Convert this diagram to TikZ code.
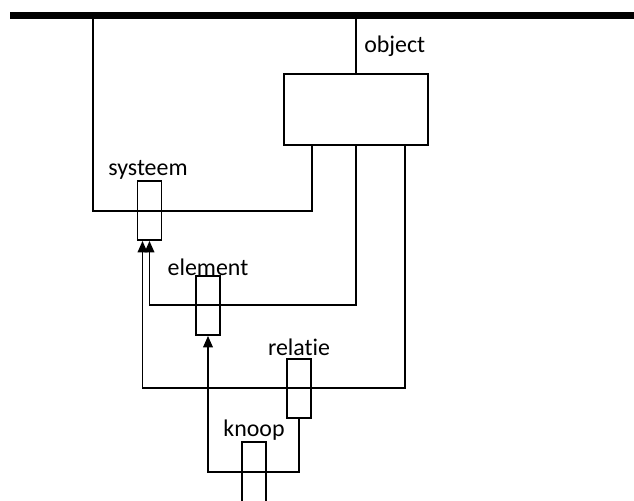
\documentclass[tikz,border=0pt]{standalone}
\usepackage{fontspec}
\setmainfont{Carlito}[Ligatures={NoCommon}]
\usetikzlibrary{arrows.meta}
\begin{document}
\begin{tikzpicture}[x=0.02cm, y=-0.02cm,
    blok/.style={draw, line width=1.1pt, minimum width=0.48cm, minimum height=1.18cm, inner sep=0pt},
    lijn/.style={line width=0.9pt},
    pijl/.style={lijn, -{Triangle[length=6.5pt, width=5.5pt]}},
    label/.style={font=\fontsize{13.6}{16}\selectfont, inner sep=0pt}]
  \clip (0,0) rectangle (634,500);
  \useasboundingbox (0,0) rectangle (634,500);

  % Bar and boxes
  \draw[line width=4pt] (10,15.5) coordinate (bl) -- (640,15.5) coordinate (br);
  \node (object) at (356,109.5) [draw, line width=1.1pt, minimum width=2.88cm, minimum height=1.42cm, inner sep=0pt] {};
  \node (systeem) at (149.5,210.5) [blok] {};
  \node (element) at (208,305.5) [blok] {};
  \node (relatie) at (299,388.5) [blok] {};
  \node (knoop) at (254,492) [blok, minimum height=2cm] {};

  % Texts
  \node[label, anchor=west] at (364,46) {object};
  \node[label] at (148,170) {systeem};
  \node[label] at (208,267) {element};
  \node[label] at (299,347) {relatie};
  \node[label] at (254,430) {knoop};

  % Exits of object
  \coordinate (o1) at (312,145);
  \coordinate (o2) at (356,145);
  \coordinate (o3) at (405,145);

  % Connections
  \draw[lijn] (object.north) -- (object.north |- bl);
  \draw[lijn] (93,15.5) |- (312,211) -- (o1);
  \draw[pijl] (o2) |- (149.5,305) -- (systeem.south);
  \draw[pijl] (o3) |- (142.5,388) -- (systeem.south -| 142.5,0);
  \draw[pijl] (relatie.south) |- (208,472) -- (element.south);
\end{tikzpicture}
\end{document}
